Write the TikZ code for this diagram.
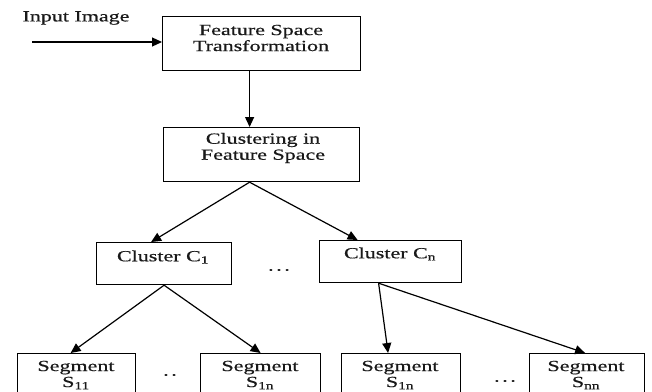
\documentclass[tikz,border=0pt]{standalone}
\usepackage{fontspec}
\setmainfont[FakeStretch=1.42,FakeBold=0.6]{Liberation Serif}
\usetikzlibrary{arrows.meta}
\tikzset{
  box/.style={draw, line width=1.2pt, inner sep=0pt, anchor=north west},
  lbl/.style={align=center, inner sep=0pt, font=\fontsize{15.5}{16}\selectfont, text=black!90},
  conn/.style={line width=1.2pt, -{Triangle[length=10pt,width=9pt]}},
}
\begin{document}
\begin{tikzpicture}[x=1pt,y=-1pt]
\useasboundingbox (0,0) rectangle (652,391);
\clip (0,0) rectangle (652,391);
% boxes
\node[box, minimum width=198pt, minimum height=54pt] (fst) at (162,16) {};
\node[box, minimum width=196pt, minimum height=54pt] (cfs) at (163,127) {};
\node[box, minimum width=135pt, minimum height=42pt] (c1) at (96,242) {};
\node[box, minimum width=142pt, minimum height=42pt] (cn) at (319,240) {};
\node[box, minimum width=118pt, minimum height=60pt] (s11) at (17,353) {};
\node[box, minimum width=120pt, minimum height=60pt] (s1n) at (200,353) {};
\node[box, minimum width=119pt, minimum height=60pt] (s1nb) at (341,353) {};
\node[box, minimum width=115pt, minimum height=60pt] (snn) at (529,353) {};
% labels
\node[lbl] (inp) at (76,18) {Input Image};
\node[lbl] (fstt) at (261,38) {Feature Space\\Transformation};
\node[lbl] (cfst) at (263,148) {Clustering in\\Feature Space};
\node[lbl] (c1t) at (163,257) {Cluster C\textsubscript{1}};
\node[lbl] (cnt) at (390,254) {Cluster C\textsubscript{n}};
\node[lbl] (s11t) at (76,375) {Segment\\S\textsubscript{11}};
\node[lbl] (s1nt) at (260,375) {Segment\\S\textsubscript{1n}};
\node[lbl] (s1nbt) at (400,375) {Segment\\S\textsubscript{1n}};
\node[lbl] (snnt) at (586,375) {Segment\\S\textsubscript{nn}};
\node[lbl] (d1) at (279,270) {.\,.\,.};
\node[lbl] (d2) at (170,375) {.\,.};
\node[lbl] (d3) at (505,381) {.\,.\,.};
% connectors
\coordinate (start) at (32,42);
\draw[conn] (start) -- (start -| fst.west);
\draw[conn] ([xshift=-12pt]fst.south) -- ([xshift=-12pt]fst.south |- cfs.north);
\draw[conn] ([xshift=-12pt]cfs.south) -- ([xshift=-13pt]c1.north);
\draw[conn] ([xshift=-12pt]cfs.south) -- ([xshift=-33pt]cn.north);
\draw[conn] (c1.south) -- ([xshift=-6pt]s11.north);
\draw[conn] (c1.south) -- (s1n.north);
\draw[conn] ([xshift=-12pt]cn.south) -- ([xshift=-13pt]s1nb.north);
\draw[conn] ([xshift=-12pt]cn.south) -- ([xshift=-2pt]snn.north);
\end{tikzpicture}
\end{document}
